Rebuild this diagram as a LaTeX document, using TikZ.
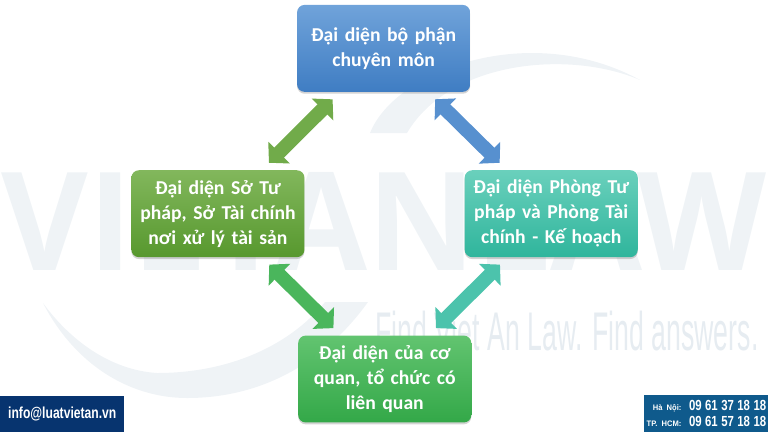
\documentclass[tikz,border=0pt]{standalone}
\usepackage{fontspec}
\setmainfont{Carlito}
\newfontfamily\wmfont{Open Sans}
\newfontfamily\tagfont{Liberation Sans}
\usepackage{tikz}
\usetikzlibrary{positioning,arrows.meta,shadows}

\definecolor{wmpale}{HTML}{EFF3F6}
\definecolor{wmtagpale}{HTML}{E6ECF1}
\definecolor{infoblue}{HTML}{07346F}
\definecolor{hotblue}{HTML}{0F5A8C}
\definecolor{bluetop}{HTML}{70A3DA}
\definecolor{bluebot}{HTML}{3F7DC3}
\definecolor{olivetop}{HTML}{82B75C}
\definecolor{olivebot}{HTML}{57982E}
\definecolor{tealtop}{HTML}{6AD0BC}
\definecolor{tealbot}{HTML}{2FB59C}
\definecolor{greentop}{HTML}{62C470}
\definecolor{greenbot}{HTML}{33A848}

\tikzset{
	repbox/.style={draw=none,
		rounded corners=0.2cm,
		minimum width=4.58cm,
		minimum height=2.30cm,
		text width=4.3cm,
		inner xsep=0.1cm,
		align=center,
		text=white,
		font=\fontsize{14.8}{18.8}\selectfont\bfseries,
		drop shadow={opacity=0.35,shadow xshift=0cm,shadow yshift=-0.05cm}},
	fatarrow/.style={line width=0.37cm,
		shorten <=0.27cm,
		shorten >=0.27cm,
		{Triangle[length=0.38cm,width=0.79cm]}-{Triangle[length=0.38cm,width=0.79cm]}}
}

\begin{document}
\begin{tikzpicture}
	\useasboundingbox (0,0) rectangle (20.32,-11.43);
	
	% Watermark
	\node [text=wmpale, font=\wmfont\fontsize{103}{103}\selectfont\bfseries, inner sep=0pt] (wmark) at (10.16,-5.85) {\scalebox{0.975}[1]{VIETANLAW}};
	\node [text=wmtagpale, font=\tagfont\fontsize{41}{41}\selectfont, inner sep=0pt] (wmtag) at (15.0,-8.75) {\scalebox{0.49}[1]{Find Viet An Law. Find answers.}};
	\begin{scope}[x=0.02646cm,y=-0.02646cm]
		\fill [wmpale] (43,303) .. controls (75,365) and (130,398) .. (187,398) .. controls (270,398) and (330,355) .. (368,302) -- (325,302) .. controls (290,345) and (230,373) .. (157,373) .. controls (110,370) and (70,340) .. (43,303) -- cycle;
		\fill [wmpale] (370,133) .. controls (395,70) and (530,20) .. (640,80) .. controls (570,50) and (450,60) .. (407,133) -- cycle;
	\end{scope}
	
	% Top box
	\node [repbox,
	top color=bluetop,
	bottom color=bluebot,
	] (chuyenmon) at (10.15,-1.28) {Đại diện bộ phận\\chuyên môn};
	
	% Left box
	\node [repbox,
	top color=olivetop,
	bottom color=olivebot,
	below left= 2.06cm and -0.21cm of chuyenmon
	] (sotuphap) {Đại diện Sở Tư\\pháp, Sở Tài chính\\nơi xử lý tài sản};
	
	% Right box
	\node [repbox,
	top color=tealtop,
	bottom color=tealbot,
	below right= 2.06cm and -0.16cm of chuyenmon
	] (phongtuphap) {Đại diện Phòng Tư\\pháp và Phòng Tài\\chính - Kế hoạch};
	
	% Bottom box
	\node [repbox,
	top color=greentop,
	bottom color=greenbot,
	below right= 2.06cm and -0.18cm of sotuphap
	] (coquan) {Đại diện của cơ\\quan, tổ chức có\\liên quan};
	
	\draw[fatarrow, olivetop!60!olivebot] (chuyenmon) -- (sotuphap);
	
	\draw[fatarrow, bluetop!50!bluebot] (chuyenmon) -- (phongtuphap);
	
	\draw[fatarrow, greentop!50!greenbot] (sotuphap) -- (coquan);
	
	\draw[fatarrow, tealtop!50!tealbot] (phongtuphap) -- (coquan);
	
	% Contact bars
	\node [fill=infoblue, text=white, anchor=south west,
	minimum width=3.28cm, minimum height=0.95cm, inner sep=0pt,
	font=\tagfont\fontsize{12}{12}\selectfont\bfseries
	] (mailbar) at (0,-11.43) {\scalebox{0.76}[1]{info@luatvietan.vn}};
	
	\node [fill=hotblue, text=white, anchor=south east,
	minimum width=3.28cm, minimum height=0.97cm, inner xsep=0pt, inner ysep=0.06cm,
	text width=3.2cm, font=\tagfont\bfseries, align=right
	] (hotbar) at (20.32,-11.43) {\scalebox{0.95}[1]{\fontsize{6}{10.5}\selectfont Hà Nội:}\hspace{0.2cm}\scalebox{0.78}[1]{\fontsize{11}{10.5}\selectfont 09 61 37 18 18}\\\scalebox{0.95}[1]{\fontsize{6}{10.5}\selectfont TP. HCM:}\hspace{0.2cm}\scalebox{0.78}[1]{\fontsize{11}{10.5}\selectfont 09 61 57 18 18}};
	
\end{tikzpicture}
\end{document}
